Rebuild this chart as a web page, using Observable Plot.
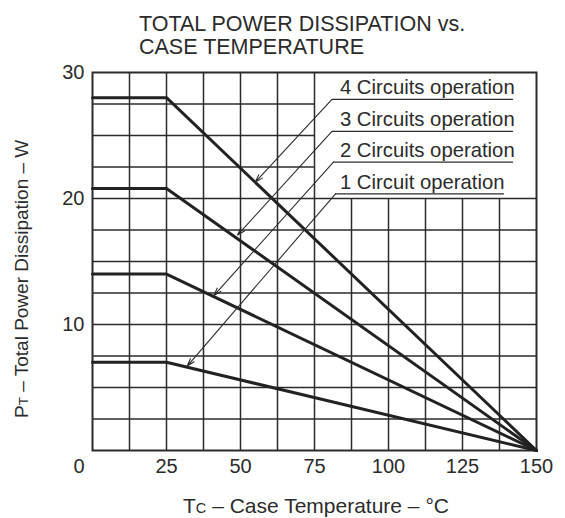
<!DOCTYPE html>
<html>
<head>
<meta charset="utf-8">
<script src="https://cdn.jsdelivr.net/npm/d3@7"></script>
<script src="https://cdn.jsdelivr.net/npm/@observablehq/plot@0.6"></script>
<style>
  html, body { margin: 0; padding: 0; background: #fff; }
  body { width: 565px; height: 518px; overflow: hidden; font-family: "Liberation Sans", Arial, sans-serif; color: #2b2b2b; }
  #title { position: relative; height: 56px; }
  #title div { position: absolute; left: 139px; font-size: 21.5px; line-height: 21.5px; white-space: nowrap; }
  #chart svg { display: block; }
</style>
</head>
<body>
<div id="title">
  <div style="top: 14px;">TOTAL POWER DISSIPATION vs.</div>
  <div style="top: 37px;">CASE TEMPERATURE</div>
</div>
<div id="chart"></div>
<script>
// ---- data ----
const circuits = ["4 Circuits operation", "3 Circuits operation", "2 Circuits operation", "1 Circuit operation"];
const curveTemp = [0, 25, 150];               // °C break points
const curvePower = [                           // W at each break point
  [28, 28, 0],
  [20.8, 20.8, 0],
  [14, 14, 0],
  [7, 7, 0]
];
const xTicks = [25, 50, 75, 100, 125, 150];
const yTicks = [10, 20, 30];
// grid (every 12.5 °C and 2.5 W; blanked behind the legend box)
const gridXFull = [12.5, 25, 37.5, 50, 62.5, 75];
const gridXShort = [87.5, 100, 112.5, 125, 137.5];
const gridYFull = [2.5, 5, 7.5, 10, 12.5, 15, 17.5, 20];
const gridYShort = [22.5, 25, 27.5];
// label annotations (data coordinates)
const labelTemp = [83.6, 83.6, 83.6, 83.6];
const underlinePower = [27.86, 25.32, 22.88, 20.37];
const underlineStart = [80.9, 80.9, 81.4, 82.1];
const underlineEnd = [142.2, 142.2, 142.2, 139.2];
const arrowTipTemp = [55, 49, 41, 32];
const arrowTipPower = [21.3, 17.1, 12.3, 6.7];

// ---- build tables ----
const lines = [];
circuits.forEach((c, i) => curveTemp.forEach((t, j) => lines.push({series: c, t, p: curvePower[i][j]})));
const idx = circuits.map((_, i) => i);

const ink = "#2b2b2b";
const W = 565, H = 462;

const plot = Plot.plot({
  width: W,
  height: H,
  marginLeft: 92,
  marginRight: 29,
  marginTop: 16,
  marginBottom: 68,
  style: {fontSize: "20px", fontFamily: "'Liberation Sans', Arial, sans-serif", color: ink, background: "#fff"},
  x: {domain: [0, 150]},
  y: {domain: [0, 30]},
  marks: [
    Plot.ruleX(gridXFull, {x: d => d, stroke: ink, strokeWidth: 1.5}),
    Plot.ruleX(gridXShort, {x: d => d, y1: 0, y2: 20, stroke: ink, strokeWidth: 1.5}),
    Plot.ruleY(gridYFull, {y: d => d, stroke: ink, strokeWidth: 1.5}),
    Plot.ruleY(gridYShort, {y: d => d, x1: 0, x2: 75, stroke: ink, strokeWidth: 1.5}),
    Plot.frame({stroke: ink, strokeWidth: 2}),
    Plot.line(lines, {x: "t", y: "p", z: "series", stroke: "#222", strokeWidth: 3}),
    Plot.ruleY(idx, {y: i => underlinePower[i], x1: i => underlineStart[i], x2: i => underlineEnd[i], stroke: ink, strokeWidth: 1.3}),
    Plot.arrow(idx, {
      x1: i => underlineStart[i], y1: i => underlinePower[i],
      x2: i => arrowTipTemp[i], y2: i => arrowTipPower[i],
      bend: 0, headLength: 11, headAngle: 35, stroke: ink, strokeWidth: 1.1
    }),
    Plot.text(idx, {
      x: i => labelTemp[i], y: i => underlinePower[i], text: i => circuits[i],
      textAnchor: "start", lineAnchor: "bottom", dy: -5, fontSize: 20.3, fill: ink
    }),
    Plot.axisX(xTicks, {tickSize: 0, tickPadding: 8, fontSize: 20, label: null, fill: ink}),
    Plot.axisY(yTicks, {tickSize: 0, tickPadding: 8, fontSize: 20, label: null, fill: ink}),
    Plot.text(["0"], {frameAnchor: "bottom-left", text: d => d, dx: -8, dy: 8, textAnchor: "end", lineAnchor: "top", fontSize: 20, fill: ink})
  ]
});

document.getElementById("chart").appendChild(plot);

// axis titles with subscripts
const svg = d3.select(plot);
const xl = svg.append("text")
  .attr("x", 183).attr("y", 457)
  .attr("fill", ink).attr("font-size", 21).attr("text-anchor", "start");
xl.append("tspan").text("T");
xl.append("tspan").attr("font-size", 14.5).text("C");
xl.append("tspan").text(" – Case Temperature – °C");

const yl = svg.append("text")
  .attr("transform", "translate(28,362) rotate(-90)")
  .attr("fill", ink).attr("font-size", 19).attr("text-anchor", "start");
yl.append("tspan").text("P");
yl.append("tspan").attr("font-size", 13.5).text("T");
yl.append("tspan").text(" – Total Power Dissipation – W");
</script>
</body>
</html>
